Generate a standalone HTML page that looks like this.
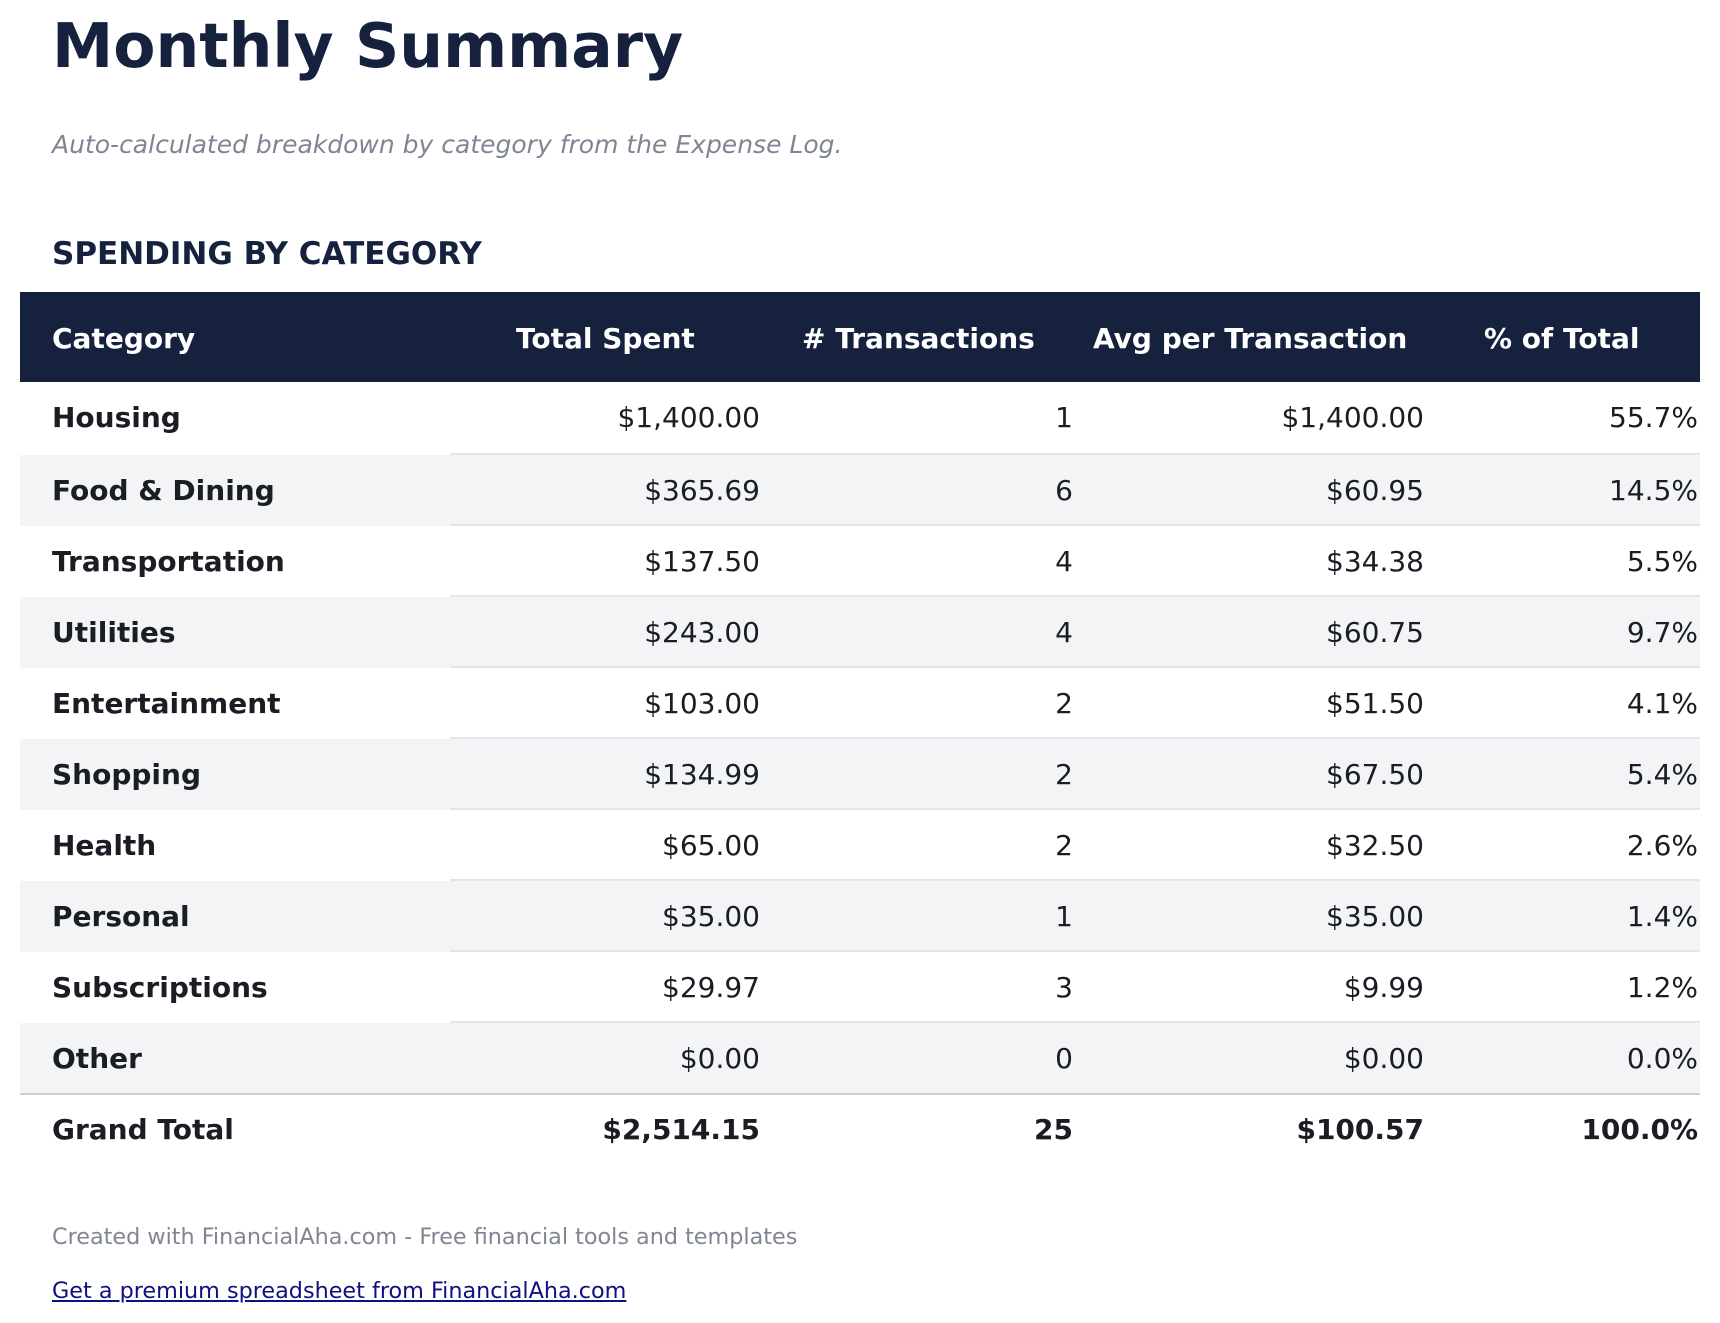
<!DOCTYPE html>
<html><head><meta charset="utf-8"><style>
body{margin:0;width:1720px;height:1323px;background:#fff;font-family:"DejaVu Sans","Liberation Sans",sans-serif;color:#1a1d24;position:relative;overflow:hidden}
.a{position:absolute;white-space:nowrap}
h1{position:absolute;left:52px;top:10px;margin:0;font-size:61.5px;font-weight:bold;color:#15213d}
.sub{left:52px;top:130px;font-size:25px;font-style:italic;color:#808593}
.sec{left:52px;top:236px;font-size:31px;font-weight:bold;color:#15213d}
.hdr{position:absolute;left:20px;top:292px;width:1680px;height:90px;background:#15213d}
.hdr span{position:absolute;top:30px;color:#fff;font-weight:bold;font-size:28px}
.row{position:absolute;left:20px;width:1680px;height:71px}
.row.s{background:#f3f4f6}
.row .ln{position:absolute;left:430px;right:0;bottom:0;height:2px;background:#e4e5ea}
.row span{position:absolute;top:19px;font-size:28px}
.c0{left:32px;font-weight:bold}
.c1{right:940px}.c2{right:627px}.c3{right:276px}.c4{right:2px}
.tot{border-top:2px solid #cdd0d8}
.tot span{font-weight:bold}
.foot{left:52px;top:1224px;font-size:22.3px;color:#808593}
.link{left:52px;top:1278px;font-size:22.3px;color:#101080;text-decoration:underline}
</style></head><body>
<h1>Monthly Summary</h1>
<div class="a sub">Auto-calculated breakdown by category from the Expense Log.</div>
<div class="a sec">SPENDING BY CATEGORY</div>
<div class="hdr"><span style="left:496px">Total Spent</span><span style="left:32px">Category</span><span style="left:782px"># Transactions</span><span style="left:1073px">Avg per Transaction</span><span style="left:1464px">% of Total</span></div>

<div class="row" style="top:382px;height:73px"><div class="ln"></div><span class="c0">Housing</span><span class="c1">$1,400.00</span><span class="c2">1</span><span class="c3">$1,400.00</span><span class="c4">55.7%</span></div>
<div class="row s" style="top:455px"><div class="ln"></div><span class="c0">Food &amp; Dining</span><span class="c1">$365.69</span><span class="c2">6</span><span class="c3">$60.95</span><span class="c4">14.5%</span></div>
<div class="row" style="top:526px"><div class="ln"></div><span class="c0">Transportation</span><span class="c1">$137.50</span><span class="c2">4</span><span class="c3">$34.38</span><span class="c4">5.5%</span></div>
<div class="row s" style="top:597px"><div class="ln"></div><span class="c0">Utilities</span><span class="c1">$243.00</span><span class="c2">4</span><span class="c3">$60.75</span><span class="c4">9.7%</span></div>
<div class="row" style="top:668px"><div class="ln"></div><span class="c0">Entertainment</span><span class="c1">$103.00</span><span class="c2">2</span><span class="c3">$51.50</span><span class="c4">4.1%</span></div>
<div class="row s" style="top:739px"><div class="ln"></div><span class="c0">Shopping</span><span class="c1">$134.99</span><span class="c2">2</span><span class="c3">$67.50</span><span class="c4">5.4%</span></div>
<div class="row" style="top:810px"><div class="ln"></div><span class="c0">Health</span><span class="c1">$65.00</span><span class="c2">2</span><span class="c3">$32.50</span><span class="c4">2.6%</span></div>
<div class="row s" style="top:881px"><div class="ln"></div><span class="c0">Personal</span><span class="c1">$35.00</span><span class="c2">1</span><span class="c3">$35.00</span><span class="c4">1.4%</span></div>
<div class="row" style="top:952px"><div class="ln"></div><span class="c0">Subscriptions</span><span class="c1">$29.97</span><span class="c2">3</span><span class="c3">$9.99</span><span class="c4">1.2%</span></div>
<div class="row s" style="top:1023px;height:70px"><span class="c0">Other</span><span class="c1">$0.00</span><span class="c2">0</span><span class="c3">$0.00</span><span class="c4">0.0%</span></div>
<div class="row tot" style="top:1093px"><span class="c0" style="top:18px">Grand Total</span><span class="c1" style="top:18px">$2,514.15</span><span class="c2" style="top:18px">25</span><span class="c3" style="top:18px">$100.57</span><span class="c4" style="top:18px">100.0%</span></div>

<div class="a foot">Created with FinancialAha.com - Free financial tools and templates</div>
<div class="a link">Get a premium spreadsheet from FinancialAha.com</div>
</body></html>
